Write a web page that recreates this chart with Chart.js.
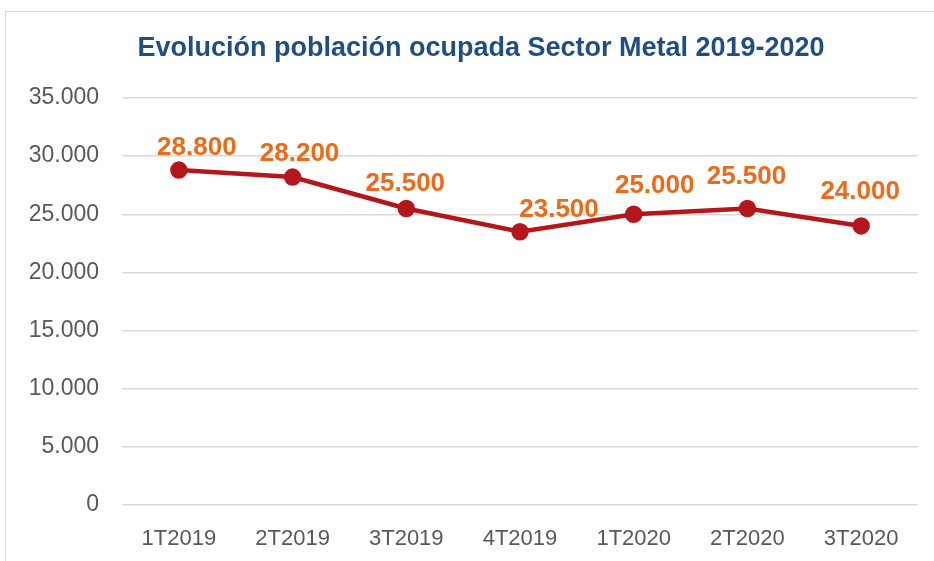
<!DOCTYPE html>
<html>
<head>
<meta charset="utf-8">
<script src="https://cdn.jsdelivr.net/npm/chart.js@4"></script>
<style>
  html, body { margin: 0; padding: 0; background: #fff; overflow: hidden; }
  #frame {
    position: absolute; left: 5px; top: 11px;
    width: 952px; height: 555px;
    border: 1px solid #d9d9d9; box-sizing: border-box;
  }
  #frame canvas { display: block; }
</style>
</head>
<body>
<div id="frame"><canvas id="myLineChart"></canvas></div>
<script>
// Datos
const categories = ["1T2019", "2T2019", "3T2019", "4T2019", "1T2020", "2T2020", "3T2020"];
const ocupados = [28800, 28200, 25500, 23500, 25000, 25500, 24000];
const yTicks = [0, 5000, 10000, 15000, 20000, 25000, 30000, 35000];
const titulo = "Evolución población ocupada Sector Metal 2019-2020";

// Desplazamiento de cada etiqueta respecto a su punto (px)
const labelOffsets = [[18, -22], [7, -23], [-1, -25], [39, -22], [21, -28], [-1, -32], [-1, -34]];

const COLORS = {
    title: "#1f4e84",
    line: "#b4161b",
    label: "#ee6a16",
    ticks: "#595959",
    grid: "#d9d9d9"
};

// Formato con punto de miles
function miles(v) {
    return String(v).replace(/\B(?=(\d{3})+(?!\d))/g, ".");
}

// Título centrado sobre el marco completo
const tituloPlugin = {
    id: "tituloPlugin",
    afterDraw(chart) {
        const ctx = chart.ctx;
        ctx.save();
        ctx.font = "bold 27px 'Liberation Sans', Arial, sans-serif";
        ctx.fillStyle = COLORS.title;
        ctx.textAlign = "center";
        ctx.textBaseline = "middle";
        ctx.fillText(titulo, 475, 37);
        ctx.restore();
    }
};

// Plugin para las etiquetas de datos
const dataLabels = {
    id: "dataLabels",
    afterDatasetsDraw(chart) {
        const ctx = chart.ctx;
        const meta = chart.getDatasetMeta(0);
        ctx.save();
        ctx.font = "bold 26px 'Liberation Sans', Arial, sans-serif";
        ctx.fillStyle = COLORS.label;
        ctx.textAlign = "center";
        ctx.textBaseline = "middle";
        meta.data.forEach((pt, i) => {
            const off = labelOffsets[i];
            ctx.fillText(miles(ocupados[i]), pt.x + off[0], pt.y + off[1]);
        });
        ctx.restore();
    }
};

document.addEventListener("DOMContentLoaded", function () {
    const ctx = document.getElementById("myLineChart");
    new Chart(ctx, {
        type: "line",
        data: {
            labels: categories,
            datasets: [{
                label: "Población ocupada",
                data: ocupados,
                borderColor: COLORS.line,
                backgroundColor: COLORS.line,
                borderWidth: 4.5,
                pointRadius: 6.5,
                pointBackgroundColor: COLORS.line,
                pointBorderColor: COLORS.line,
                tension: 0
            }]
        },
        options: {
            responsive: true,
            maintainAspectRatio: false,
            animation: false,
            layout: { padding: { left: 0, right: 38, top: 86, bottom: 0 } },
            scales: {
                x: {
                    offset: true,
                    grid: { display: false, drawTicks: false },
                    border: { display: false },
                    ticks: {
                        color: COLORS.ticks,
                        font: { family: "'Liberation Sans', Arial, sans-serif", size: 22 },
                        padding: 21,
                        maxRotation: 0
                    },
                    afterFit: scale => { scale.height = 60; }
                },
                y: {
                    min: 0,
                    max: 35000,
                    afterBuildTicks: scale => { scale.ticks = yTicks.map(v => ({ value: v })); },
                    grid: { color: COLORS.grid, lineWidth: 1.5, drawTicks: false },
                    border: { display: false },
                    ticks: {
                        color: COLORS.ticks,
                        font: { family: "'Liberation Sans', Arial, sans-serif", size: 23 },
                        padding: 23,
                        callback: v => miles(v)
                    },
                    afterFit: scale => { scale.width = 116; }
                }
            },
            plugins: {
                legend: { display: false },
                tooltip: { enabled: false },
                title: { display: false }
            }
        },
        plugins: [dataLabels, tituloPlugin]
    });
});
</script>
</body>
</html>
